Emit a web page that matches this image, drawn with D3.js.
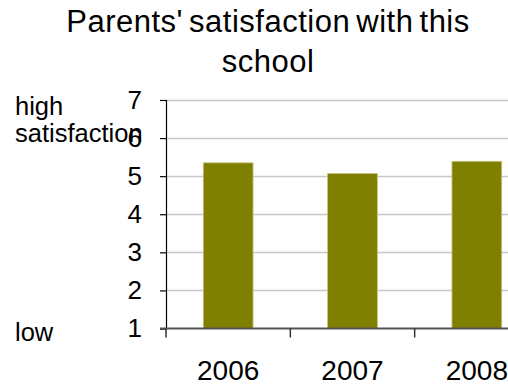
<!DOCTYPE html>
<html>
<head>
<meta charset="utf-8">
<script src="https://cdn.jsdelivr.net/npm/d3@7"></script>
<style>
  html, body { margin: 0; padding: 0; background: #fff; overflow: hidden; }
  svg { display: block; font-family: Arial, "Liberation Sans", sans-serif; }
</style>
</head>
<body>
<svg id="chart" width="508" height="385"></svg>
<script>
// Survey results: mean satisfaction score per year (scale 1 = low, 7 = high)
const years = ["2006", "2007", "2008"];
const satisfaction = [5.35, 5.07, 5.39];
const yTicks = [1, 2, 3, 4, 5, 6, 7];
const titleLines = ["Parents' satisfaction with this", "school"];

const svg = d3.select("#chart");

// plot area (right side continues past the visible edge)
const plot = { left: 166, right: 539, top: 100, bottom: 328.5 };

const y = d3.scaleLinear().domain([1, 7]).range([plot.bottom, plot.top]);
const x = d3.scaleBand()
  .domain(years)
  .range([plot.left, plot.right])
  .paddingInner(0.6)
  .paddingOuter(0.3);

// horizontal gridlines
svg.append("g")
  .selectAll("line")
  .data(yTicks.filter(d => d > 1))
  .join("line")
  .attr("x1", plot.left)
  .attr("x2", 508)
  .attr("y1", d => Math.round(y(d)) + 0.5)
  .attr("y2", d => Math.round(y(d)) + 0.5)
  .attr("stroke", "#c8c8c8")
  .attr("stroke-width", 1.5);

// bars
svg.append("g")
  .selectAll("rect")
  .data(years)
  .join("rect")
  .attr("x", d => x(d))
  .attr("width", x.bandwidth())
  .attr("y", (d, i) => y(satisfaction[i]))
  .attr("height", (d, i) => y(1) - y(satisfaction[i]))
  .attr("fill", "#808000")
  .attr("stroke", "#c4c47a")
  .attr("stroke-width", 0.8);

// y axis
const yAxis = d3.axisLeft(y)
  .tickValues(yTicks)
  .tickSize(6)
  .tickPadding(18)
  .tickFormat(d3.format("d"));
const gy = svg.append("g")
  .attr("transform", `translate(${plot.left},0)`)
  .call(yAxis);
gy.select(".domain").attr("stroke", "#000").attr("stroke-width", 1.2);
gy.selectAll(".tick line").attr("stroke", "#000").attr("stroke-width", 1.2);
gy.selectAll(".tick text")
  .attr("font-size", 26)
  .attr("fill", "#000")
  .attr("font-family", "Arial, 'Liberation Sans', sans-serif");

// x axis baseline and category separators
const step = x.step();
svg.append("line")
  .attr("x1", plot.left - 6)
  .attr("x2", 508)
  .attr("y1", y(1))
  .attr("y2", y(1))
  .attr("stroke", "#555")
  .attr("stroke-width", 2);
svg.append("g")
  .selectAll("line")
  .data(d3.range(years.length))
  .join("line")
  .attr("x1", i => plot.left + i * step)
  .attr("x2", i => plot.left + i * step)
  .attr("y1", y(1))
  .attr("y2", y(1) + 9)
  .attr("stroke", "#333")
  .attr("stroke-width", 1.5);

// category labels
svg.append("g")
  .selectAll("text")
  .data(years)
  .join("text")
  .attr("x", d => x(d) + x.bandwidth() / 2)
  .attr("y", 380)
  .attr("text-anchor", "middle")
  .attr("font-size", 28)
  .attr("fill", "#000")
  .text(d => d);

// title
svg.append("g")
  .selectAll("text")
  .data(titleLines)
  .join("text")
  .attr("x", 268)
  .attr("y", (d, i) => 32 + i * 40)
  .attr("text-anchor", "middle")
  .attr("font-size", 31)
  .attr("letter-spacing", 0.5)
  .attr("word-spacing", -3)
  .attr("fill", "#000")
  .text(d => d);

// scale end labels
const sideLabels = [
  { text: "high", y: 115 },
  { text: "satisfaction", y: 142 },
  { text: "low", y: 341 }
];
svg.append("g")
  .selectAll("text")
  .data(sideLabels)
  .join("text")
  .attr("x", 15)
  .attr("y", d => d.y)
  .attr("font-size", 25.5)
  .attr("fill", "#000")
  .text(d => d.text);
</script>
</body>
</html>
